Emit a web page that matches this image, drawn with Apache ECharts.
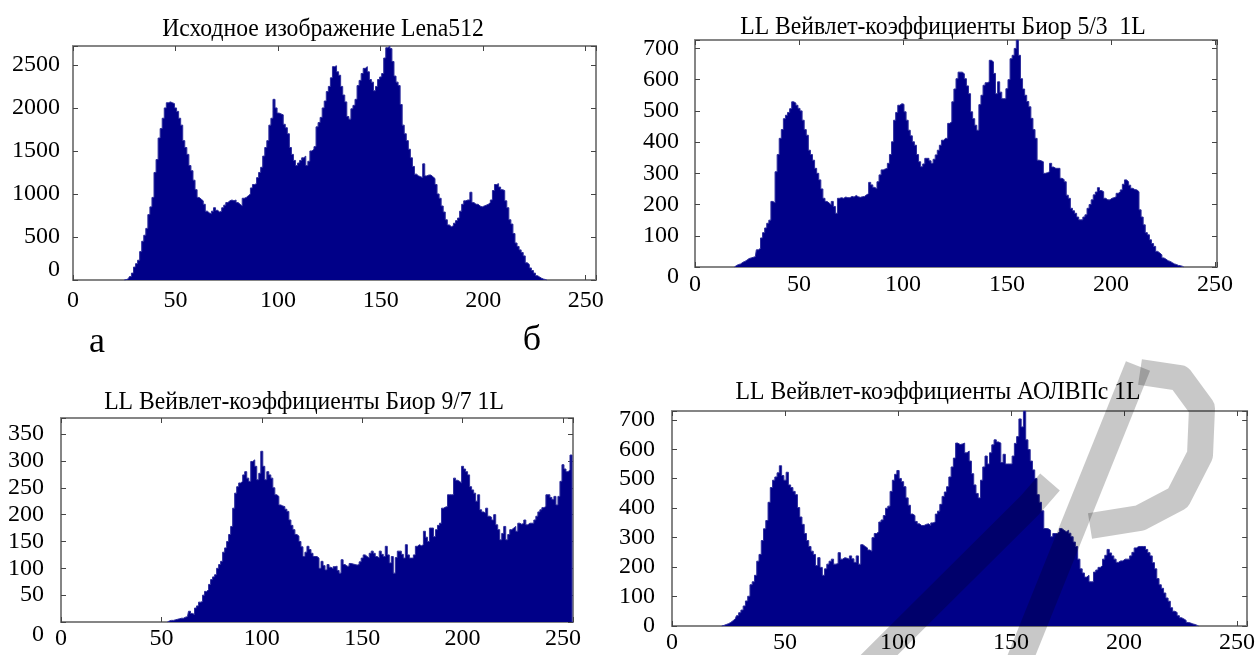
<!DOCTYPE html>
<html><head><meta charset="utf-8">
<script src="https://cdn.jsdelivr.net/npm/echarts@6/dist/echarts.min.js"></script>
<style>html,body{margin:0;padding:0;background:#fff}#c{width:1258px;height:655px}</style>
</head><body><div id="c"></div>
<script>
// ---------- DATA ----------
const titles = [
  'Исходное изображение Lena512',
  'LL Вейвлет-коэффициенты Биор 5/3  1L',
  'LL Вейвлет-коэффициенты Биор 9/7 1L',
  'LL Вейвлет-коэффициенты АОЛВПс 1L'
];
const panelLetters = ['а', 'б'];
const xTicks = [0, 50, 100, 150, 200, 250];
const lenaYTicks = [0, 500, 1000, 1500, 2000, 2500];
const bior53YTicks = [0, 100, 200, 300, 400, 500, 600, 700];
const bior97YTicks = [0, 50, 100, 150, 200, 250, 300, 350];
const aolvpsYTicks = [0, 100, 200, 300, 400, 500, 600, 700];

// histogram counts, first bin index = *Start
const lenaStart = 26;
const lenaCounts = [
  5,15,40,80,150,190,230,330,450,520,
  600,760,850,960,1250,1400,1650,1760,1880,2000,
  2060,2070,2060,2050,2000,1960,1880,1800,1620,1540,
  1460,1330,1270,1160,1050,960,940,920,880,800,
  780,770,800,840,810,790,800,840,870,900,
  920,930,920,930,900,880,860,950,960,980,
  1000,1070,1110,1120,1190,1250,1310,1440,1540,1620,
  1800,1880,2100,2000,1940,1930,1920,1810,1770,1700,
  1540,1460,1390,1330,1360,1390,1420,1440,1330,1380,
  1500,1520,1550,1780,1830,1890,2000,2080,2190,2250,
  2350,2480,2490,2420,2380,2250,2150,2070,1900,1870,
  1990,2030,2100,2260,2320,2400,2460,2480,2420,2330,
  2300,2200,2250,2330,2360,2400,2580,2700,2720,2690,
  2540,2370,2300,2260,2040,1800,1700,1620,1520,1420,
  1320,1230,1210,1200,1190,1350,1210,1220,1220,1200,
  1180,1110,1000,950,860,790,700,640,620,630,
  660,690,720,800,880,920,930,930,1020,900,
  880,880,860,850,860,870,880,900,930,1040,
  1110,1120,1080,1050,1040,920,840,700,650,540,
  430,390,350,320,280,200,180,140,110,80,
  50,35,20,10,5
];
const bior53Start = 20;
const bior53Counts = [
  5,8,10,15,18,22,27,29,31,33,
  55,60,93,110,125,140,150,210,205,305,
  360,412,440,475,486,495,507,529,525,518,
  508,500,470,440,422,374,360,342,316,300,
  279,250,220,210,205,199,210,194,172,220,
  222,220,224,222,222,226,224,229,225,223,
  225,226,231,235,271,263,255,250,273,295,
  311,314,316,332,360,401,470,495,518,523,
  521,497,470,438,420,401,390,360,337,321,
  330,348,348,340,332,345,359,374,390,406,
  412,412,460,465,529,570,603,624,624,619,
  603,580,555,497,475,454,438,520,550,582,
  590,593,662,657,620,555,593,560,539,539,
  571,600,667,678,700,727,678,603,570,550,
  530,513,476,440,412,342,340,337,300,302,
  305,332,320,316,316,316,284,280,273,230,
  220,188,180,172,160,151,151,160,167,188,
  200,215,231,240,254,245,241,220,215,215,
  220,222,225,236,240,247,265,279,273,262,
  252,248,247,241,183,160,135,110,103,87,
  75,66,50,45,39,29,25,20,18,14,
  10,8,5,4,2
];
const bior97Start = 54;
const bior97Counts = [
  2,3,3,4,5,6,7,7,9,10,
  20,16,14,26,30,37,38,50,57,60,
  70,79,84,88,100,107,113,130,138,150,
  163,178,212,240,252,259,262,274,280,268,
  262,299,302,290,265,277,318,290,265,280,
  274,268,250,237,234,218,216,215,210,206,
  190,180,172,163,160,150,140,122,130,141,
  135,128,122,122,119,100,113,105,97,107,
  102,99,103,104,96,91,116,107,104,104,
  109,108,107,106,107,112,119,125,122,119,
  128,132,128,122,119,132,126,122,141,125,
  110,122,91,120,132,132,126,119,144,125,
  119,119,125,141,144,142,144,169,158,150,
  175,175,159,172,180,184,212,214,215,237,
  237,237,268,264,262,259,290,285,280,274,
  252,246,240,225,237,209,205,203,212,197,
  195,190,200,181,172,153,165,178,153,163,
  172,175,178,169,184,182,184,190,181,184,
  184,184,190,197,205,209,213,215,237,237,
  232,228,234,218,234,262,293,285,280,283,
  311
];
const aolvpsStart = 23;
const aolvpsCounts = [
  2,5,8,12,18,24,35,45,54,68,
  85,101,140,150,172,220,243,290,330,358,
  420,470,495,506,520,544,511,495,522,479,
  470,457,446,402,370,345,314,290,270,254,
  243,205,232,199,172,194,210,220,227,210,
  212,249,227,232,230,227,238,228,216,238,
  210,276,270,265,258,254,300,314,320,353,
  360,375,400,407,457,495,515,528,501,490,
  473,435,410,380,375,355,347,341,341,345,
  347,341,350,353,380,390,413,440,455,473,
  506,540,570,621,616,618,621,588,594,560,
  517,479,450,435,495,540,577,550,588,615,
  632,625,621,555,583,550,550,550,577,620,
  643,703,676,730,632,599,560,530,501,446,
  420,391,331,330,325,303,314,314,320,331,
  325,320,325,315,303,285,270,227,194,180,
  166,172,150,150,183,190,199,205,227,240,
  260,248,238,227,216,221,221,227,227,227,
  238,250,265,270,270,270,270,260,249,238,
  215,194,161,140,128,112,95,84,62,50,
  46,35,28,24,19,12,10,7,5,2
];

// ---------- LAYOUT / STYLE ----------
const FONT = 'Liberation Serif, Times New Roman, serif';
const FILL = '#000088';
const EDGE = '#2c2c9c';
const BOX = '#858585';
const panels = [
  {start: lenaStart, counts: lenaCounts, yTicks: lenaYTicks,
   grid: {left: 73, top: 46, width: 523, height: 234}, xMax: 255, yMax: 2720, yInt: 500,
   zeroPad: [0, 0, 20, 0], yMargin: 13, xMargin: 9, titleX: 323, titleY: 29},
  {start: bior53Start, counts: bior53Counts, yTicks: bior53YTicks,
   grid: {left: 695, top: 40, width: 522, height: 227}, xMax: 251, yMax: 727, yInt: 100,
   zeroPad: [20, 0, 0, 0], yMargin: 16, xMargin: 6, titleX: 943, titleY: 27},
  {start: bior97Start, counts: bior97Counts, yTicks: bior97YTicks,
   grid: {left: 61, top: 418, width: 512, height: 204}, xMax: 255, yMax: 380, yInt: 50,
   zeroPad: [26, 0, 0, 0], yMargin: 17, xMargin: 5, titleX: 304, titleY: 402},
  {start: aolvpsStart, counts: aolvpsCounts, yTicks: aolvpsYTicks,
   grid: {left: 672, top: 411, width: 576, height: 221}, xMax: 254.5, yMax: 730, yInt: 100,
   zeroPad: [0, 0, 0, 0], yMargin: 17, xMargin: 5, titleX: 938, titleY: 392}
];

const grids = [], xAxes = [], yAxes = [], series = [], graphics = [];
const lbl = {fontFamily: FONT, fontSize: 24, color: '#000'};
const line = {show: true, onZero: false, lineStyle: {color: BOX, width: 2}};
const tick = {show: true, inside: true, length: 5, lineStyle: {color: '#444', width: 1}};

panels.forEach((p, i) => {
  grids.push(Object.assign({show: false}, p.grid));
  const xf = v => xTicks.includes(v) ? String(v) : '';
  const yf = v => p.yTicks.includes(v) ? (v === 0 ? '{z|0}' : String(v)) : '';
  xAxes.push({type: 'value', gridIndex: i, position: 'bottom', min: 0, max: p.xMax, interval: 50,
    axisLine: line, axisTick: tick, splitLine: {show: false},
    axisLabel: Object.assign({formatter: xf, margin: p.xMargin}, lbl)});
  xAxes.push({type: 'value', gridIndex: i, position: 'top', min: 0, max: p.xMax, interval: 50,
    axisLine: line, axisTick: tick, splitLine: {show: false}, axisLabel: {show: false}});
  yAxes.push({type: 'value', gridIndex: i, position: 'left', min: 0, max: p.yMax, interval: p.yInt,
    axisLine: line, axisTick: tick, splitLine: {show: false},
    axisLabel: Object.assign({formatter: yf, margin: p.yMargin,
      rich: {z: Object.assign({padding: p.zeroPad}, lbl)}}, lbl)});
  yAxes.push({type: 'value', gridIndex: i, position: 'right', min: 0, max: p.yMax, interval: p.yInt,
    axisLine: line, axisTick: tick, splitLine: {show: false}, axisLabel: {show: false}});
  const data = [[p.start - 1, 0]];
  p.counts.forEach((v, k) => data.push([p.start + k, v]));
  data.push([p.start + p.counts.length, 0]);
  series.push({type: 'line', xAxisIndex: i * 2, yAxisIndex: i * 2, step: 'middle', symbol: 'none',
    data: data, silent: true, clip: true, z: 1,
    lineStyle: {color: EDGE, width: 1}, areaStyle: {color: FILL, opacity: 1}});
  graphics.push({type: 'text', x: p.titleX, y: p.titleY, scaleX: 0.91, originX: 0, originY: 0,
    style: {text: titles[i], fontFamily: FONT, fontSize: 26, fill: '#000', align: 'center', verticalAlign: 'middle'}});
});
graphics.push({type: 'text', x: 97, y: 343,
  style: {text: panelLetters[0], fontFamily: FONT, fontSize: 36, fill: '#000', align: 'center', verticalAlign: 'middle'}});
graphics.push({type: 'text', x: 532, y: 341,
  style: {text: panelLetters[1], fontFamily: FONT, fontSize: 36, fill: '#000', align: 'center', verticalAlign: 'middle'}});
// faint repository watermark strokes over the lower-right panel (decoration, not data)
const wmStyle = {fill: null, stroke: '#c8c8c8', lineWidth: 26, lineCap: 'butt', lineJoin: 'round', blend: 'multiply'};
graphics.push({type: 'polyline', z: 100, silent: true,
  shape: {points: [[862, 672], [1030, 505], [1050, 482]]}, style: wmStyle});
graphics.push({type: 'polyline', z: 100, silent: true,
  shape: {points: [[1138, 366], [1018, 664]]}, style: wmStyle});
graphics.push({type: 'polyline', z: 100, silent: true,
  shape: {points: [[1140, 372], [1180, 378], [1202, 408], [1200, 455], [1178, 498], [1140, 518], [1090, 526]]},
  style: wmStyle});

const chart = echarts.init(document.getElementById('c'));
chart.setOption({
  animation: false,
  backgroundColor: '#fff',
  grid: grids, xAxis: xAxes, yAxis: yAxes, series: series, graphic: graphics
});
</script></body></html>
